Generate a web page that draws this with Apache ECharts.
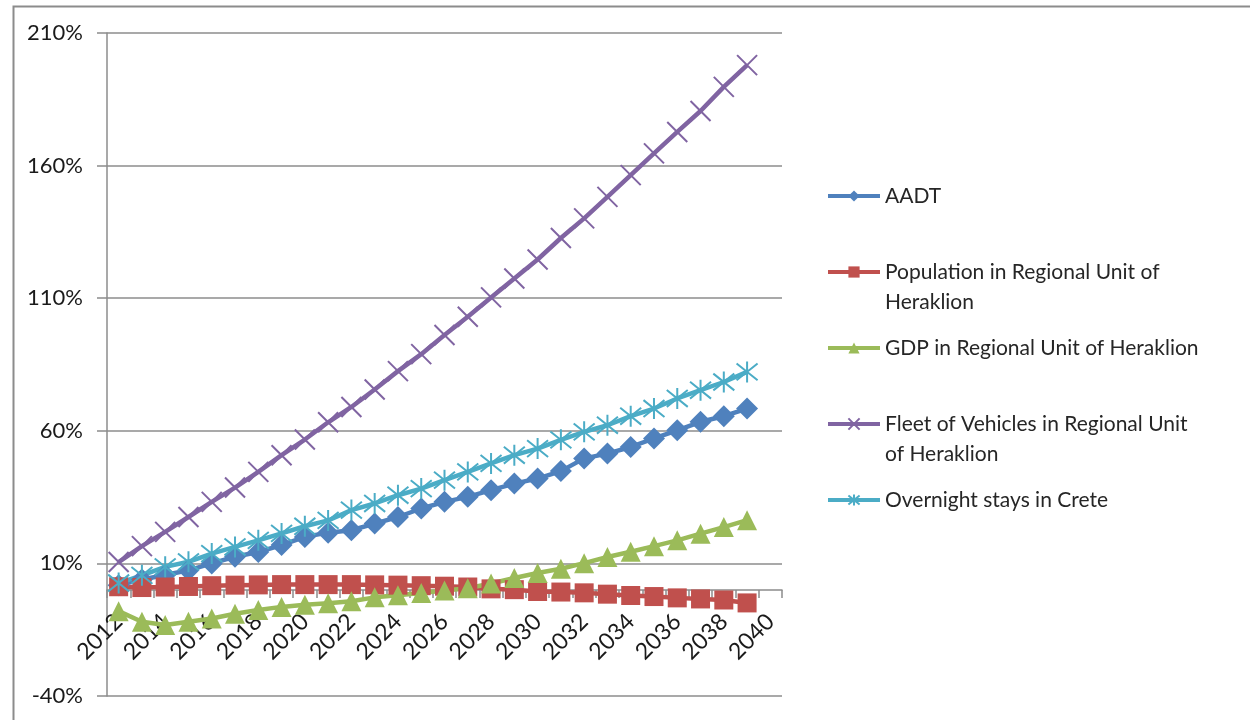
<!DOCTYPE html>
<html>
<head>
<meta charset="utf-8">
<script src="https://cdn.jsdelivr.net/npm/echarts@6/dist/echarts.min.js"></script>
<style>
  html, body { margin: 0; padding: 0; background: #fff; }
  #chart { width: 1250px; height: 720px; }
</style>
</head>
<body>
<div id="chart"></div>
<script>
// years on the category axis (2040 has no data, only a label)
const years = ['2012', '2013', '2014', '2015', '2016', '2017', '2018', '2019', '2020', '2021',
  '2022', '2023', '2024', '2025', '2026', '2027', '2028', '2029', '2030', '2031',
  '2032', '2033', '2034', '2035', '2036', '2037', '2038', '2039', '2040'];

// growth vs base year, in %
const aadt = [1.8, 3.9, 5.6, 7.4, 10.0, 12.5, 14.3, 16.9, 20.0, 21.6,
  22.5, 25.0, 27.5, 30.7, 33.2, 35.1, 37.6, 40.1, 42.0, 44.8,
  49.6, 51.4, 53.9, 57.1, 60.2, 63.4, 65.5, 68.4];
const population = [1.2, 0.9, 1.1, 1.3, 1.6, 1.8, 1.9, 2.0, 2.0, 2.0,
  2.0, 1.9, 1.8, 1.6, 1.4, 1.1, 0.4, 0.1, -0.6, -0.8,
  -1.1, -1.6, -2.1, -2.5, -3.0, -3.4, -3.8, -4.9];
const gdp = [-8.0, -12.0, -13.2, -12.0, -10.8, -9.0, -7.6, -6.4, -5.6, -5.0,
  -4.3, -2.8, -2.0, -1.2, -0.2, 0.6, 2.4, 4.5, 6.4, 8.0,
  10.1, 12.4, 14.4, 16.5, 18.7, 21.2, 23.7, 26.3];
const fleet = [10.5, 16.5, 21.9, 27.5, 33.2, 38.6, 44.5, 50.8, 56.7, 63.2,
  69.0, 75.6, 82.5, 88.9, 96.1, 103.0, 110.3, 117.4, 124.6, 132.7,
  140.1, 148.2, 156.4, 164.6, 172.7, 180.6, 189.7, 197.9];
const overnight = [2.6, 5.5, 8.7, 10.6, 13.7, 16.2, 18.7, 21.3, 24.0, 26.2,
  30.1, 32.6, 35.7, 38.2, 41.4, 44.5, 47.7, 50.8, 53.3, 56.6,
  59.6, 62.1, 65.5, 68.4, 72.2, 75.3, 78.4, 82.2];

const yTicks = [-40, 10, 60, 110, 160, 210];

const seriesNames = [
  'AADT',
  'Population in Regional Unit of Heraklion',
  'GDP in Regional Unit of Heraklion',
  'Fleet of Vehicles in Regional Unit of Heraklion',
  'Overnight stays in Crete'
];
// wrapped legend text; leading blank line keeps the icon on the first line
const legendText = [
  'AADT',
  '\nPopulation in Regional Unit of\nHeraklion',
  'GDP in Regional Unit of Heraklion',
  '\nFleet of Vehicles in Regional Unit\nof Heraklion',
  'Overnight stays in Crete'
];

const COLORS = ['#4F81BD', '#C0504D', '#9BBB59', '#8064A2', '#4BACC6'];
const FONT = 'Lato, "Liberation Sans", sans-serif';

const crossPath = 'path://M0 0L10 10M10 0L0 10';
const starPath = 'path://M1 1L9 9M9 1L1 9M5 0L5 10';

// grid geometry: the category axis sits on the 0% line
const GRID_TOP = 33, GRID_BOTTOM = 24;
const plotH = 720 - GRID_TOP - GRID_BOTTOM;
const zeroOffset = -plotH * (0 - yTicks[0]) / (yTicks[yTicks.length - 1] - yTicks[0]);

function filledSeries(i, data, symbol, size) {
  return {
    name: seriesNames[i],
    type: 'line',
    data: data,
    symbol: symbol,
    symbolSize: size,
    showAllSymbol: true,
    itemStyle: { color: COLORS[i] },
    lineStyle: { color: COLORS[i], width: 4.5 },
    emphasis: { disabled: true },
    animation: false
  };
}

function strokedSeries(i, data, symbol, size) {
  return {
    name: seriesNames[i],
    type: 'line',
    data: data,
    symbol: symbol,
    symbolSize: size,
    showAllSymbol: true,
    itemStyle: { color: 'rgba(0,0,0,0)', borderColor: COLORS[i], borderWidth: 2 },
    lineStyle: { color: COLORS[i], width: 4.5 },
    emphasis: { disabled: true },
    animation: false
  };
}

const chart = echarts.init(document.getElementById('chart'));

chart.setOption({
  backgroundColor: '#fff',
  animation: false,
  textStyle: { fontFamily: FONT },
  graphic: [{
    type: 'rect',
    left: 11, top: 4,
    shape: { width: 1300, height: 800 },
    style: { fill: 'none', stroke: '#8c8c8c', lineWidth: 2 },
    silent: true
  }],
  grid: { left: 107, right: 468, top: GRID_TOP, bottom: GRID_BOTTOM, outerBoundsMode: 'none', containLabel: false },
  legend: {
    orient: 'vertical',
    left: 826,
    top: 181,
    padding: 0,
    itemGap: 16,
    itemWidth: 52,
    itemHeight: 14,
    lineStyle: { width: 4 },
    data: seriesNames,
    formatter: (name) => legendText[seriesNames.indexOf(name)],
    textStyle: { fontFamily: FONT, fontSize: 21, lineHeight: 30, color: '#262626' }
  },
  xAxis: {
    type: 'category',
    data: years,
    boundaryGap: true,
    position: 'bottom',
    offset: zeroOffset,
    axisLine: { onZero: false, lineStyle: { color: '#8c8c8c', width: 1.5 } },
    axisTick: { show: true, interval: 0, length: 8, lineStyle: { color: '#8c8c8c', width: 1.5 } },
    axisLabel: {
      interval: 1,
      rotate: 45,
      margin: 28,
      fontSize: 23,
      fontFamily: FONT,
      color: '#1a1a1a'
    },
    splitLine: { show: false }
  },
  yAxis: {
    type: 'value',
    min: yTicks[0],
    max: yTicks[yTicks.length - 1],
    interval: 50,
    axisLine: { show: true, lineStyle: { color: '#8c8c8c', width: 1.5 } },
    axisTick: { show: true, length: 10, lineStyle: { color: '#8c8c8c', width: 1.5 } },
    axisLabel: {
      margin: 24,
      fontSize: 22,
      fontFamily: FONT,
      color: '#1a1a1a',
      formatter: (v) => v + '%'
    },
    splitLine: { show: true, lineStyle: { color: '#8c8c8c', width: 1.5 } }
  },
  series: [
    filledSeries(0, aadt, 'diamond', 22),
    filledSeries(1, population, 'rect', 19),
    filledSeries(2, gdp, 'triangle', 20),
    strokedSeries(3, fleet, crossPath, 20),
    strokedSeries(4, overnight, starPath, 21)
  ]
});
</script>
</body>
</html>
